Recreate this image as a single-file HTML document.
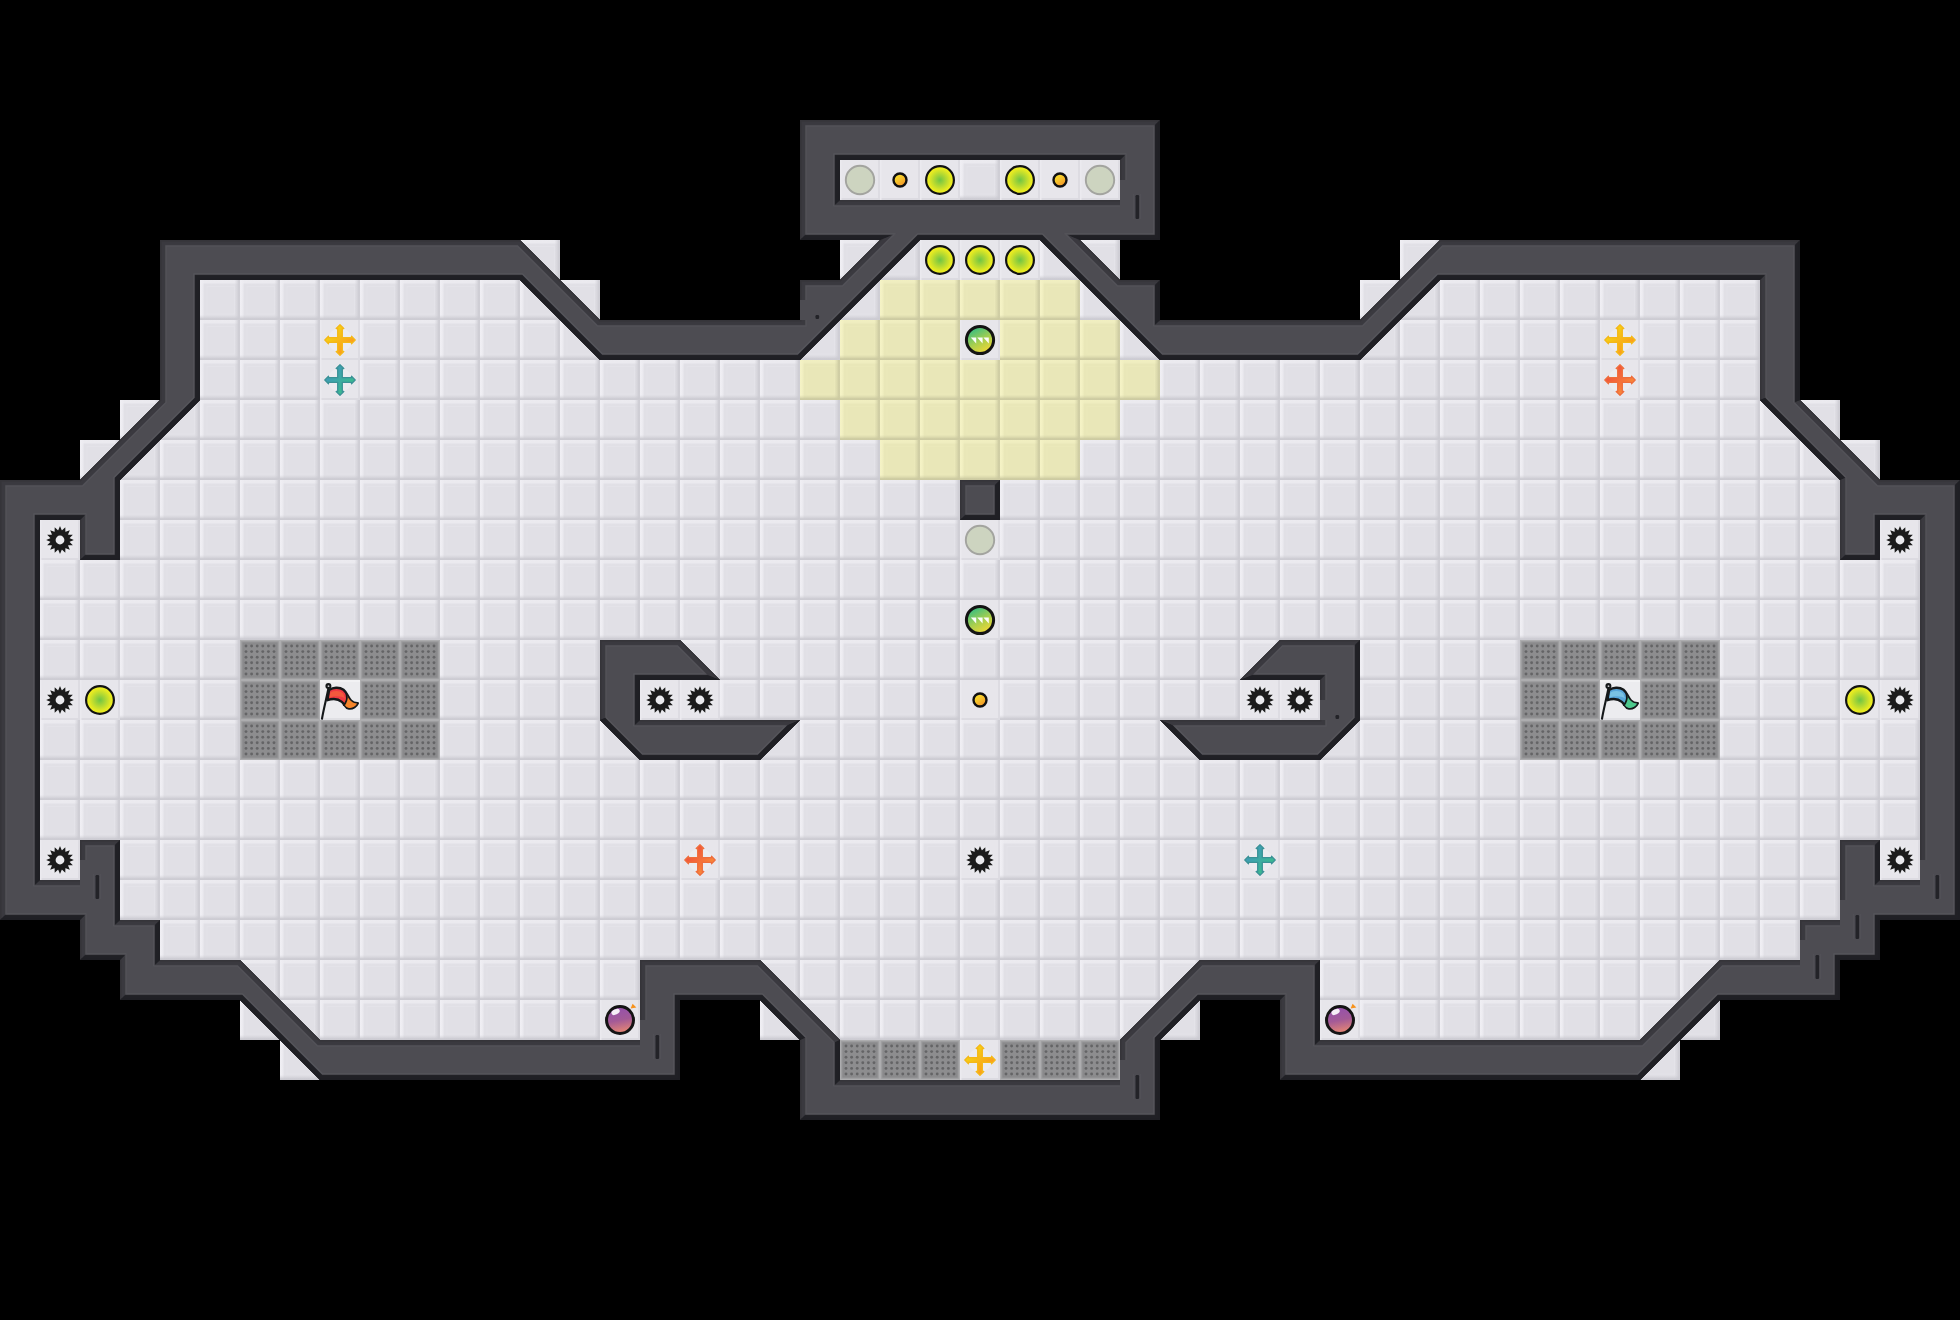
<!DOCTYPE html>
<html><head><meta charset="utf-8"><title>map</title>
<style>
html,body{margin:0;padding:0;background:#000;}
body{width:1960px;height:1320px;overflow:hidden;font-family:"Liberation Sans",sans-serif;}
svg{display:block}
</style></head><body>
<svg width="1960" height="1320" viewBox="0 0 1960 1320">
<defs>
<linearGradient id="gr" x1="0" x2="1" y1="0" y2="0"><stop offset="0" stop-color="#cdccd3" stop-opacity="0"/><stop offset=".45" stop-color="#cdccd3" stop-opacity=".45"/><stop offset=".8" stop-color="#cdccd3"/><stop offset="1" stop-color="#d0cfd6"/></linearGradient>
<linearGradient id="gb" x1="0" x2="0" y1="0" y2="1"><stop offset="0" stop-color="#cbcad1" stop-opacity="0"/><stop offset=".45" stop-color="#cbcad1" stop-opacity=".45"/><stop offset=".8" stop-color="#cbcad1"/><stop offset="1" stop-color="#cfced5"/></linearGradient>
<linearGradient id="gl" x1="0" x2="1" y1="0" y2="0"><stop offset="0" stop-color="#f0eff4"/><stop offset=".45" stop-color="#eeedf2"/><stop offset="1" stop-color="#eeedf2" stop-opacity="0"/></linearGradient>
<linearGradient id="gt" x1="0" x2="0" y1="0" y2="1"><stop offset="0" stop-color="#ecebf0"/><stop offset=".55" stop-color="#ebeaef"/><stop offset="1" stop-color="#ebeaef" stop-opacity="0"/></linearGradient>
<linearGradient id="gry" x1="0" x2="1" y1="0" y2="0"><stop offset="0" stop-color="#cdcba2" stop-opacity="0"/><stop offset=".45" stop-color="#cdcba2" stop-opacity=".45"/><stop offset=".8" stop-color="#cdcba2"/><stop offset="1" stop-color="#d1cfa6"/></linearGradient>
<linearGradient id="gby" x1="0" x2="0" y1="0" y2="1"><stop offset="0" stop-color="#cbc9a0" stop-opacity="0"/><stop offset=".45" stop-color="#cbc9a0" stop-opacity=".45"/><stop offset=".8" stop-color="#cbc9a0"/><stop offset="1" stop-color="#cfcda4"/></linearGradient>
<linearGradient id="gly" x1="0" x2="1" y1="0" y2="0"><stop offset="0" stop-color="#f5f3c6"/><stop offset=".45" stop-color="#f3f1c3"/><stop offset="1" stop-color="#f3f1c3" stop-opacity="0"/></linearGradient>
<linearGradient id="gty" x1="0" x2="0" y1="0" y2="1"><stop offset="0" stop-color="#f1efc1"/><stop offset=".55" stop-color="#efedbf"/><stop offset="1" stop-color="#efedbf" stop-opacity="0"/></linearGradient>
<pattern id="pf" width="40" height="40" patternUnits="userSpaceOnUse">
<rect width="40" height="40" fill="#e1e0e6"/>
<rect x="7" y="6.5" width="27.5" height="27.5" fill="none" stroke="#e4e3e9" stroke-width="1.2"/>
<rect x="0" y="0" width="40" height="4.6" fill="url(#gt)"/>
<rect x="0" y="0" width="4.6" height="40" fill="url(#gl)"/>
<rect x="34.4" y="0" width="5.6" height="40" fill="url(#gr)"/>
<rect x="0" y="35" width="40" height="5" fill="url(#gb)"/>
</pattern>
<pattern id="pw" width="40" height="40" patternUnits="userSpaceOnUse">
<rect width="40" height="40" fill="#ececef"/>
<rect x="0" y="0" width="40" height="2" fill="#f2f2f4"/>
<rect x="0" y="38" width="40" height="2" fill="#e0e0e4"/>
</pattern>
<pattern id="py" width="40" height="40" patternUnits="userSpaceOnUse">
<rect width="40" height="40" fill="#e9e7b8"/>
<rect x="7" y="6.5" width="27.5" height="27.5" fill="none" stroke="#ebe9ba" stroke-width="1.2"/>
<rect x="0" y="0" width="40" height="4.6" fill="url(#gty)"/>
<rect x="0" y="0" width="4.6" height="40" fill="url(#gly)"/>
<rect x="34.4" y="0" width="5.6" height="40" fill="url(#gry)"/>
<rect x="0" y="35" width="40" height="5" fill="url(#gby)"/>
</pattern>
<pattern id="pg" width="40" height="40" patternUnits="userSpaceOnUse">
<rect width="40" height="40" fill="#adadaf"/>
<rect x="1.2" y="1.2" width="37.6" height="37.6" fill="#9a9a9c"/>
<rect x="2.4" y="2.4" width="35.2" height="35.2" fill="#8a8a8c"/>
<rect x="4.5" y="4.5" width="31" height="31" fill="#8d8d8f"/>
<g fill="#646466"><circle cx="6" cy="6" r="1.45"/><circle cx="6" cy="11.6" r="1.45"/><circle cx="6" cy="17.2" r="1.45"/><circle cx="6" cy="22.8" r="1.45"/><circle cx="6" cy="28.4" r="1.45"/><circle cx="6" cy="34" r="1.45"/><circle cx="11.6" cy="6" r="1.45"/><circle cx="11.6" cy="11.6" r="1.45"/><circle cx="11.6" cy="17.2" r="1.45"/><circle cx="11.6" cy="22.8" r="1.45"/><circle cx="11.6" cy="28.4" r="1.45"/><circle cx="11.6" cy="34" r="1.45"/><circle cx="17.2" cy="6" r="1.45"/><circle cx="17.2" cy="11.6" r="1.45"/><circle cx="17.2" cy="17.2" r="1.45"/><circle cx="17.2" cy="22.8" r="1.45"/><circle cx="17.2" cy="28.4" r="1.45"/><circle cx="17.2" cy="34" r="1.45"/><circle cx="22.8" cy="6" r="1.45"/><circle cx="22.8" cy="11.6" r="1.45"/><circle cx="22.8" cy="17.2" r="1.45"/><circle cx="22.8" cy="22.8" r="1.45"/><circle cx="22.8" cy="28.4" r="1.45"/><circle cx="22.8" cy="34" r="1.45"/><circle cx="28.4" cy="6" r="1.45"/><circle cx="28.4" cy="11.6" r="1.45"/><circle cx="28.4" cy="17.2" r="1.45"/><circle cx="28.4" cy="22.8" r="1.45"/><circle cx="28.4" cy="28.4" r="1.45"/><circle cx="28.4" cy="34" r="1.45"/><circle cx="34" cy="6" r="1.45"/><circle cx="34" cy="11.6" r="1.45"/><circle cx="34" cy="17.2" r="1.45"/><circle cx="34" cy="22.8" r="1.45"/><circle cx="34" cy="28.4" r="1.45"/><circle cx="34" cy="34" r="1.45"/></g>
</pattern>
<radialGradient id="gboost"><stop offset="0" stop-color="#6fc544"/><stop offset=".35" stop-color="#a5d436"/><stop offset=".8" stop-color="#e6ea22"/><stop offset="1" stop-color="#f2f21c"/></radialGradient>
<linearGradient id="gbtn" x1="0.2" y1="0.1" x2="0.8" y2="0.9"><stop offset="0" stop-color="#f9e22c"/><stop offset=".5" stop-color="#f7c02c"/><stop offset="1" stop-color="#f3942a"/></linearGradient>
<linearGradient id="gpup" x1="0.25" y1="0.05" x2="0.75" y2="0.95"><stop offset="0" stop-color="#35bd83"/><stop offset=".55" stop-color="#a9cf4e"/><stop offset="1" stop-color="#f1d834"/></linearGradient>
<linearGradient id="gbomb" x1="0.4" y1="0" x2="0.6" y2="1"><stop offset="0" stop-color="#9450ae"/><stop offset=".5" stop-color="#a35a97"/><stop offset="1" stop-color="#ec8a70"/></linearGradient>
<linearGradient id="gcy" x1="0" y1="0" x2="1" y2="1"><stop offset="0.15" stop-color="#f3da12"/><stop offset=".85" stop-color="#fd931e"/></linearGradient>
<linearGradient id="gcb" x1="0" y1="0" x2="1" y2="1"><stop offset="0.15" stop-color="#3f96bd"/><stop offset=".85" stop-color="#3cc088"/></linearGradient>
<linearGradient id="gcr" x1="0" y1="0" x2="1" y2="1"><stop offset="0.15" stop-color="#ef4a3a"/><stop offset=".85" stop-color="#fb923a"/></linearGradient>
<g id="otile"><rect width="40" height="40" fill="#e7e6eb"/><rect x="38" width="2" height="40" fill="#dddce2"/><rect y="38" width="40" height="2" fill="#dcdbe1"/><rect width="1.5" height="40" fill="#ebeaef"/></g>
<g id="boost"><circle r="13.9" fill="url(#gboost)" stroke="#121212" stroke-width="2.2"/></g>
<g id="off"><circle r="14.2" fill="#cdd4c0" stroke="#a3a49f" stroke-width="1.9"/></g>
<g id="btn"><circle r="6.5" fill="url(#gbtn)" stroke="#111" stroke-width="2.4"/></g>
<g id="pup"><circle r="13.6" fill="url(#gpup)" stroke="#141414" stroke-width="3"/>
<path d="M-9.2 -2.4h5.4v5.8zM-2.8 -2.4h5.4v5.8zM3.4 -2.4h5.4v5.8z" fill="#fff" opacity=".97"/></g>
<g id="bomb"><path d="M10.6 -11.4L12.6 -16.2L16.4 -12.4z" fill="#f7931e"/><circle r="13.5" fill="url(#gbomb)" stroke="#141414" stroke-width="3"/>
<ellipse cx="-4.4" cy="-8.4" rx="4.4" ry="2.6" fill="#fff" opacity=".9" transform="rotate(-25 -3.6 -8.2)"/></g>
<g id="spike"><circle r="14.5" fill="#ebebef" opacity=".7"/><path d="M9.74 -1.78L13.90 0.00L9.74 1.78L9.68 2.08L12.84 5.32L8.32 5.37L8.14 5.63L9.83 9.83L5.63 8.14L5.37 8.32L5.32 12.84L2.08 9.68L1.78 9.74L0.00 13.90L-1.78 9.74L-2.08 9.68L-5.32 12.84L-5.37 8.32L-5.63 8.14L-9.83 9.83L-8.14 5.63L-8.32 5.37L-12.84 5.32L-9.68 2.08L-9.74 1.78L-13.90 0.00L-9.74 -1.78L-9.68 -2.08L-12.84 -5.32L-8.32 -5.37L-8.14 -5.63L-9.83 -9.83L-5.63 -8.14L-5.37 -8.32L-5.32 -12.84L-2.08 -9.68L-1.78 -9.74L-0.00 -13.90L1.78 -9.74L2.08 -9.68L5.32 -12.84L5.37 -8.32L5.63 -8.14L9.83 -9.83L8.14 -5.63L8.32 -5.37L12.84 -5.32L9.68 -2.08zM4.4 0A4.4 4.4 0 1 0 -4.4 0A4.4 4.4 0 1 0 4.4 0z" fill="#1b1b1b" fill-rule="evenodd"/></g>
<g id="cy"><circle r="12" fill="#f1f0f4" opacity=".55"/><path d="M2.30 -2.30L11.50 -2.30L11.50 -3.80L15.20 0.00L11.50 3.80L11.50 2.30L2.30 2.30L2.30 2.30L2.30 11.50L3.80 11.50L0.00 15.20L-3.80 11.50L-2.30 11.50L-2.30 2.30L-2.30 2.30L-11.50 2.30L-11.50 3.80L-15.20 0.00L-11.50 -3.80L-11.50 -2.30L-2.30 -2.30L-2.30 -2.30L-2.30 -11.50L-3.80 -11.50L-0.00 -15.20L3.80 -11.50L2.30 -11.50L2.30 -2.30z" fill="url(#gcy)" stroke="#f4b818" stroke-width="1.3" stroke-linejoin="round"/></g>
<g id="cb"><circle r="12" fill="#f1f0f4" opacity=".55"/><path d="M2.30 -2.30L11.50 -2.30L11.50 -3.80L15.20 0.00L11.50 3.80L11.50 2.30L2.30 2.30L2.30 2.30L2.30 11.50L3.80 11.50L0.00 15.20L-3.80 11.50L-2.30 11.50L-2.30 2.30L-2.30 2.30L-11.50 2.30L-11.50 3.80L-15.20 0.00L-11.50 -3.80L-11.50 -2.30L-2.30 -2.30L-2.30 -2.30L-2.30 -11.50L-3.80 -11.50L-0.00 -15.20L3.80 -11.50L2.30 -11.50L2.30 -2.30z" fill="url(#gcb)" stroke="#3b9296" stroke-width="1.3" stroke-linejoin="round"/></g>
<g id="cr"><circle r="12" fill="#f1f0f4" opacity=".55"/><path d="M2.30 -2.30L11.50 -2.30L11.50 -3.80L15.20 0.00L11.50 3.80L11.50 2.30L2.30 2.30L2.30 2.30L2.30 11.50L3.80 11.50L0.00 15.20L-3.80 11.50L-2.30 11.50L-2.30 2.30L-2.30 2.30L-11.50 2.30L-11.50 3.80L-15.20 0.00L-11.50 -3.80L-11.50 -2.30L-2.30 -2.30L-2.30 -2.30L-2.30 -11.50L-3.80 -11.50L-0.00 -15.20L3.80 -11.50L2.30 -11.50L2.30 -2.30z" fill="url(#gcr)" stroke="#ee6e3c" stroke-width="1.3" stroke-linejoin="round"/></g>
<g id="rflag"><path d="M-18 18.7C-16.5 10 -13.5 -2 -11.5 -12" stroke="#15181a" stroke-width="2.1" stroke-linecap="round" fill="none"/><circle cx="-11.6" cy="-13.9" r="3" fill="#15181a"/><circle cx="-11.5" cy="-13.8" r="0.9" fill="#c8c8cc"/>
<path d="M-10.9 -10C-7 -12.6 -1 -13.4 3.5 -10.3C7 -7.6 8 -2.5 11 0.6C13 2.7 15.5 3.4 17.8 3.3C16.5 6.3 13 9 9 8.6C5 8 4.6 4.2 1.8 1.8C-1.8 -1.2 -7.5 -1.6 -12.6 0.2z" fill="#ee3942" stroke="#15181a" stroke-width="2.4" stroke-linejoin="round"/>
<path d="M-9.6 -7.6C-5 -9.6 0 -9.6 3.2 -6.4L5 -1.6C1.6 -4 -4.5 -4.4 -10.6 -2.6z" fill="#f4633c" opacity=".75"/>
<path d="M6.9 -5C8.2 -2 9.5 0 11 1.1C13 2.9 15.3 3.6 17 3.6C15.8 6.1 12.8 8.3 9.2 7.9C6.8 7.6 5.4 6 4.3 4.2z" fill="#f5852a"/>
<path d="M6.6 -5.4C7.4 -1.5 6 3 3.8 5" stroke="#15181a" stroke-width="1.9" fill="none" stroke-linecap="round"/></g>
<g id="bflag"><path d="M-18 18.7C-16.5 10 -13.5 -2 -11.5 -12" stroke="#15181a" stroke-width="2.1" stroke-linecap="round" fill="none"/><circle cx="-11.6" cy="-13.9" r="3" fill="#15181a"/><circle cx="-11.5" cy="-13.8" r="0.9" fill="#c8c8cc"/>
<path d="M-10.9 -10C-7 -12.6 -1 -13.4 3.5 -10.3C7 -7.6 8 -2.5 11 0.6C13 2.7 15.5 3.4 17.8 3.3C16.5 6.3 13 9 9 8.6C5 8 4.6 4.2 1.8 1.8C-1.8 -1.2 -7.5 -1.6 -12.6 0.2z" fill="#58a6da" stroke="#15181a" stroke-width="2.4" stroke-linejoin="round"/>
<path d="M-9.6 -7.6C-5 -9.6 0 -9.6 3.2 -6.4L5 -1.6C1.6 -4 -4.5 -4.4 -10.6 -2.6z" fill="#86cbe6" opacity=".75"/>
<path d="M6.9 -5C8.2 -2 9.5 0 11 1.1C13 2.9 15.3 3.6 17 3.6C15.8 6.1 12.8 8.3 9.2 7.9C6.8 7.6 5.4 6 4.3 4.2z" fill="#4cc88c"/>
<path d="M6.6 -5.4C7.4 -1.5 6 3 3.8 5" stroke="#15181a" stroke-width="1.9" fill="none" stroke-linecap="round"/></g>
</defs>
<rect width="1960" height="1320" fill="#000"/>
<path d="M840 160h280v40h-280zM520 240h40v40h-40zM840 240h280v40h-280zM1400 240h40v40h-40zM200 280h400v40h-400zM840 280h40v40h-40zM1080 280h40v40h-40zM1360 280h400v40h-400zM200 320h400v40h-400zM800 320h40v40h-40zM960 320h40v40h-40zM1120 320h40v40h-40zM1360 320h400v40h-400zM200 360h600v40h-600zM1160 360h600v40h-600zM120 400h720v40h-720zM1120 400h720v40h-720zM80 440h800v40h-800zM1080 440h800v40h-800zM120 480h840v40h-840zM1000 480h840v40h-840zM40 520h40v40h-40zM120 520h1720v40h-1720zM1880 520h40v40h-40zM40 560h1880v40h-1880zM40 600h1880v40h-1880zM40 640h200v40h-200zM440 640h160v40h-160zM680 640h600v40h-600zM1360 640h160v40h-160zM1720 640h200v40h-200zM40 680h200v40h-200zM440 680h160v40h-160zM640 680h680v40h-680zM1360 680h160v40h-160zM1720 680h200v40h-200zM40 720h200v40h-200zM440 720h200v40h-200zM760 720h440v40h-440zM1320 720h200v40h-200zM1720 720h200v40h-200zM40 760h1880v40h-1880zM40 800h1880v40h-1880zM40 840h40v40h-40zM120 840h1720v40h-1720zM1880 840h40v40h-40zM120 880h1720v40h-1720zM160 920h1640v40h-1640zM240 960h400v40h-400zM760 960h440v40h-440zM1320 960h400v40h-400zM240 1000h400v40h-400zM760 1000h440v40h-440zM1320 1000h400v40h-400zM280 1040h40v40h-40zM960 1040h40v40h-40zM1640 1040h40v40h-40z" fill="url(#pf)"/>
<path d="M880 280h200v40h-200zM840 320h120v40h-120zM1000 320h120v40h-120zM800 360h360v40h-360zM840 400h280v40h-280zM880 440h200v40h-200z" fill="url(#py)"/>
<path d="M240 640h200v40h-200zM1520 640h200v40h-200zM240 680h80v40h-80zM360 680h80v40h-80zM1520 680h80v40h-80zM1640 680h80v40h-80zM240 720h200v40h-200zM1520 720h200v40h-200zM840 1040h120v40h-120zM1000 1040h120v40h-120z" fill="url(#pg)"/>
<path d="M320 680h40v40h-40zM1600 680h40v40h-40z" fill="url(#pw)"/>
<path d="M600 320L520 240L160 240L160 400L80 480L0 480L0 920L80 920L80 960L120 960L120 1000L240 1000L320 1080L680 1080L680 1000L760 1000L800 1040L800 1120L1160 1120L1160 1040L1200 1000L1280 1000L1280 1080L1640 1080L1720 1000L1840 1000L1840 960L1880 960L1880 920L1960 920L1960 480L1880 480L1800 400L1800 240L1440 240L1360 320L1160 320L1160 280L1120 280L1080 240L1160 240L1160 120L800 120L800 240L880 240L840 280L800 280L800 320zM520 280L600 360L800 360L920 240L1040 240L1160 360L1360 360L1440 280L1760 280L1760 400L1840 480L1840 560L1880 560L1880 520L1920 520L1920 880L1880 880L1880 840L1840 840L1840 920L1800 920L1800 960L1720 960L1640 1040L1320 1040L1320 960L1200 960L1120 1040L1120 1080L840 1080L840 1040L760 960L640 960L640 1040L320 1040L240 960L160 960L160 920L120 920L120 840L80 840L80 880L40 880L40 520L80 520L80 560L120 560L120 480L200 400L200 280zM1120 160L1120 200L840 200L840 160zM760 760L800 720L640 720L640 680L720 680L680 640L600 640L600 720L640 760zM960 480L960 520L1000 520L1000 480zM1160 720L1200 760L1320 760L1360 720L1360 640L1280 640L1240 680L1320 680L1320 720z" fill="#4d4c52" fill-rule="evenodd"/>
<path d="M600.00 320.00L520.00 240.00L517.18 246.80L597.18 326.80zM520.00 240.00L160.00 240.00L166.80 246.80L517.18 246.80zM160.00 240.00L160.00 400.00L166.80 402.82L166.80 246.80zM160.00 400.00L80.00 480.00L82.82 486.80L166.80 402.82zM80.00 480.00L0.00 480.00L6.80 486.80L82.82 486.80zM0.00 480.00L0.00 920.00L6.80 913.20L6.80 486.80zM80.00 920.00L80.00 960.00L86.80 953.20L86.80 913.20zM120.00 960.00L120.00 1000.00L126.80 993.20L126.80 953.20zM800.00 1040.00L800.00 1120.00L806.80 1113.20L806.80 1037.18zM1280.00 1000.00L1280.00 1080.00L1286.80 1073.20L1286.80 993.20zM1960.00 480.00L1880.00 480.00L1877.18 486.80L1953.20 486.80zM1880.00 480.00L1800.00 400.00L1793.20 402.82L1877.18 486.80zM1800.00 240.00L1440.00 240.00L1442.82 246.80L1793.20 246.80zM1440.00 240.00L1360.00 320.00L1362.82 326.80L1442.82 246.80zM1360.00 320.00L1160.00 320.00L1153.20 326.80L1362.82 326.80zM1160.00 280.00L1120.00 280.00L1117.18 286.80L1153.20 286.80zM1120.00 280.00L1080.00 240.00L1063.58 233.20L1117.18 286.80zM1160.00 120.00L800.00 120.00L806.80 126.80L1153.20 126.80zM800.00 120.00L800.00 240.00L806.80 233.20L806.80 126.80zM880.00 240.00L840.00 280.00L842.82 286.80L896.42 233.20zM840.00 280.00L800.00 280.00L806.80 286.80L842.82 286.80zM800.00 280.00L800.00 320.00L806.80 326.80L806.80 286.80zM800.00 320.00L600.00 320.00L597.18 326.80L806.80 326.80zM1760.00 280.00L1760.00 400.00L1766.80 397.18L1766.80 273.20zM1840.00 480.00L1840.00 560.00L1846.80 553.20L1846.80 477.18zM1920.00 520.00L1920.00 880.00L1926.80 886.80L1926.80 513.20zM1920.00 880.00L1880.00 880.00L1873.20 886.80L1926.80 886.80zM1880.00 840.00L1840.00 840.00L1846.80 846.80L1873.20 846.80zM1840.00 840.00L1840.00 920.00L1846.80 926.80L1846.80 846.80zM1840.00 920.00L1800.00 920.00L1806.80 926.80L1846.80 926.80zM1800.00 920.00L1800.00 960.00L1806.80 966.80L1806.80 926.80zM1800.00 960.00L1720.00 960.00L1722.82 966.80L1806.80 966.80zM1720.00 960.00L1640.00 1040.00L1642.82 1046.80L1722.82 966.80zM1640.00 1040.00L1320.00 1040.00L1313.20 1046.80L1642.82 1046.80zM1320.00 960.00L1200.00 960.00L1202.82 966.80L1313.20 966.80zM1200.00 960.00L1120.00 1040.00L1126.80 1042.82L1202.82 966.80zM1120.00 1040.00L1120.00 1080.00L1126.80 1086.80L1126.80 1042.82zM1120.00 1080.00L840.00 1080.00L833.20 1086.80L1126.80 1086.80zM840.00 1040.00L760.00 960.00L757.18 966.80L833.20 1042.82zM760.00 960.00L640.00 960.00L646.80 966.80L757.18 966.80zM640.00 960.00L640.00 1040.00L646.80 1046.80L646.80 966.80zM640.00 1040.00L320.00 1040.00L317.18 1046.80L646.80 1046.80zM320.00 1040.00L240.00 960.00L237.18 966.80L317.18 1046.80zM240.00 960.00L160.00 960.00L153.20 966.80L237.18 966.80zM160.00 920.00L120.00 920.00L113.20 926.80L153.20 926.80zM120.00 840.00L80.00 840.00L86.80 846.80L113.20 846.80zM80.00 840.00L80.00 880.00L86.80 886.80L86.80 846.80zM80.00 880.00L40.00 880.00L33.20 886.80L86.80 886.80zM80.00 520.00L80.00 560.00L86.80 553.20L86.80 513.20zM1120.00 160.00L1120.00 200.00L1126.80 206.80L1126.80 153.20zM1120.00 200.00L840.00 200.00L833.20 206.80L1126.80 206.80zM800.00 720.00L640.00 720.00L633.20 726.80L783.58 726.80zM720.00 680.00L680.00 640.00L677.18 646.80L703.58 673.20zM680.00 640.00L600.00 640.00L606.80 646.80L677.18 646.80zM600.00 640.00L600.00 720.00L606.80 717.18L606.80 646.80zM960.00 480.00L960.00 520.00L966.80 513.20L966.80 486.80zM1000.00 480.00L960.00 480.00L966.80 486.80L993.20 486.80zM1360.00 640.00L1280.00 640.00L1282.82 646.80L1353.20 646.80zM1280.00 640.00L1240.00 680.00L1256.42 673.20L1282.82 646.80zM1320.00 680.00L1320.00 720.00L1326.80 726.80L1326.80 673.20zM1320.00 720.00L1160.00 720.00L1176.42 726.80L1326.80 726.80z" fill="#535258"/>
<path d="M0.00 920.00L80.00 920.00L86.80 913.20L6.80 913.20zM80.00 960.00L120.00 960.00L126.80 953.20L86.80 953.20zM120.00 1000.00L240.00 1000.00L242.82 993.20L126.80 993.20zM240.00 1000.00L320.00 1080.00L322.82 1073.20L242.82 993.20zM320.00 1080.00L680.00 1080.00L673.20 1073.20L322.82 1073.20zM680.00 1080.00L680.00 1000.00L673.20 993.20L673.20 1073.20zM680.00 1000.00L760.00 1000.00L762.82 993.20L673.20 993.20zM760.00 1000.00L800.00 1040.00L806.80 1037.18L762.82 993.20zM800.00 1120.00L1160.00 1120.00L1153.20 1113.20L806.80 1113.20zM1160.00 1120.00L1160.00 1040.00L1153.20 1037.18L1153.20 1113.20zM1160.00 1040.00L1200.00 1000.00L1197.18 993.20L1153.20 1037.18zM1200.00 1000.00L1280.00 1000.00L1286.80 993.20L1197.18 993.20zM1280.00 1080.00L1640.00 1080.00L1637.18 1073.20L1286.80 1073.20zM1640.00 1080.00L1720.00 1000.00L1717.18 993.20L1637.18 1073.20zM1720.00 1000.00L1840.00 1000.00L1833.20 993.20L1717.18 993.20zM1840.00 1000.00L1840.00 960.00L1833.20 953.20L1833.20 993.20zM1840.00 960.00L1880.00 960.00L1873.20 953.20L1833.20 953.20zM1880.00 960.00L1880.00 920.00L1873.20 913.20L1873.20 953.20zM1880.00 920.00L1960.00 920.00L1953.20 913.20L1873.20 913.20zM1960.00 920.00L1960.00 480.00L1953.20 486.80L1953.20 913.20zM1800.00 400.00L1800.00 240.00L1793.20 246.80L1793.20 402.82zM1160.00 320.00L1160.00 280.00L1153.20 286.80L1153.20 326.80zM1080.00 240.00L1160.00 240.00L1153.20 233.20L1063.58 233.20zM1160.00 240.00L1160.00 120.00L1153.20 126.80L1153.20 233.20zM800.00 240.00L880.00 240.00L896.42 233.20L806.80 233.20zM520.00 280.00L600.00 360.00L602.82 353.20L522.82 273.20zM600.00 360.00L800.00 360.00L797.18 353.20L602.82 353.20zM800.00 360.00L920.00 240.00L917.18 233.20L797.18 353.20zM920.00 240.00L1040.00 240.00L1042.82 233.20L917.18 233.20zM1040.00 240.00L1160.00 360.00L1162.82 353.20L1042.82 233.20zM1160.00 360.00L1360.00 360.00L1357.18 353.20L1162.82 353.20zM1360.00 360.00L1440.00 280.00L1437.18 273.20L1357.18 353.20zM1440.00 280.00L1760.00 280.00L1766.80 273.20L1437.18 273.20zM1760.00 400.00L1840.00 480.00L1846.80 477.18L1766.80 397.18zM1840.00 560.00L1880.00 560.00L1873.20 553.20L1846.80 553.20zM1880.00 560.00L1880.00 520.00L1873.20 513.20L1873.20 553.20zM1880.00 520.00L1920.00 520.00L1926.80 513.20L1873.20 513.20zM1880.00 880.00L1880.00 840.00L1873.20 846.80L1873.20 886.80zM1320.00 1040.00L1320.00 960.00L1313.20 966.80L1313.20 1046.80zM840.00 1080.00L840.00 1040.00L833.20 1042.82L833.20 1086.80zM160.00 960.00L160.00 920.00L153.20 926.80L153.20 966.80zM120.00 920.00L120.00 840.00L113.20 846.80L113.20 926.80zM40.00 880.00L40.00 520.00L33.20 513.20L33.20 886.80zM40.00 520.00L80.00 520.00L86.80 513.20L33.20 513.20zM80.00 560.00L120.00 560.00L113.20 553.20L86.80 553.20zM120.00 560.00L120.00 480.00L113.20 477.18L113.20 553.20zM120.00 480.00L200.00 400.00L193.20 397.18L113.20 477.18zM200.00 400.00L200.00 280.00L193.20 273.20L193.20 397.18zM200.00 280.00L520.00 280.00L522.82 273.20L193.20 273.20zM840.00 200.00L840.00 160.00L833.20 153.20L833.20 206.80zM840.00 160.00L1120.00 160.00L1126.80 153.20L833.20 153.20zM760.00 760.00L800.00 720.00L783.58 726.80L757.18 753.20zM640.00 720.00L640.00 680.00L633.20 673.20L633.20 726.80zM640.00 680.00L720.00 680.00L703.58 673.20L633.20 673.20zM600.00 720.00L640.00 760.00L642.82 753.20L606.80 717.18zM640.00 760.00L760.00 760.00L757.18 753.20L642.82 753.20zM960.00 520.00L1000.00 520.00L993.20 513.20L966.80 513.20zM1000.00 520.00L1000.00 480.00L993.20 486.80L993.20 513.20zM1160.00 720.00L1200.00 760.00L1202.82 753.20L1176.42 726.80zM1200.00 760.00L1320.00 760.00L1317.18 753.20L1202.82 753.20zM1320.00 760.00L1360.00 720.00L1353.20 717.18L1317.18 753.20zM1360.00 720.00L1360.00 640.00L1353.20 646.80L1353.20 717.18zM1240.00 680.00L1320.00 680.00L1326.80 673.20L1256.42 673.20z" fill="#56555b"/>
<path d="M600.00 320.00L520.00 240.00L517.80 245.30L597.80 325.30zM520.00 240.00L160.00 240.00L165.30 245.30L517.80 245.30zM160.00 240.00L160.00 400.00L165.30 402.20L165.30 245.30zM160.00 400.00L80.00 480.00L82.20 485.30L165.30 402.20zM80.00 480.00L0.00 480.00L5.30 485.30L82.20 485.30zM0.00 480.00L0.00 920.00L5.30 914.70L5.30 485.30zM80.00 920.00L80.00 960.00L85.30 954.70L85.30 914.70zM120.00 960.00L120.00 1000.00L125.30 994.70L125.30 954.70zM800.00 1040.00L800.00 1120.00L805.30 1114.70L805.30 1037.80zM1280.00 1000.00L1280.00 1080.00L1285.30 1074.70L1285.30 994.70zM1960.00 480.00L1880.00 480.00L1877.80 485.30L1954.70 485.30zM1880.00 480.00L1800.00 400.00L1794.70 402.20L1877.80 485.30zM1800.00 240.00L1440.00 240.00L1442.20 245.30L1794.70 245.30zM1440.00 240.00L1360.00 320.00L1362.20 325.30L1442.20 245.30zM1360.00 320.00L1160.00 320.00L1154.70 325.30L1362.20 325.30zM1160.00 280.00L1120.00 280.00L1117.80 285.30L1154.70 285.30zM1120.00 280.00L1080.00 240.00L1067.20 234.70L1117.80 285.30zM1160.00 120.00L800.00 120.00L805.30 125.30L1154.70 125.30zM800.00 120.00L800.00 240.00L805.30 234.70L805.30 125.30zM880.00 240.00L840.00 280.00L842.20 285.30L892.80 234.70zM840.00 280.00L800.00 280.00L805.30 285.30L842.20 285.30zM800.00 280.00L800.00 320.00L805.30 325.30L805.30 285.30zM800.00 320.00L600.00 320.00L597.80 325.30L805.30 325.30zM1760.00 280.00L1760.00 400.00L1765.30 397.80L1765.30 274.70zM1840.00 480.00L1840.00 560.00L1845.30 554.70L1845.30 477.80zM1920.00 520.00L1920.00 880.00L1925.30 885.30L1925.30 514.70zM1920.00 880.00L1880.00 880.00L1874.70 885.30L1925.30 885.30zM1880.00 840.00L1840.00 840.00L1845.30 845.30L1874.70 845.30zM1840.00 840.00L1840.00 920.00L1845.30 925.30L1845.30 845.30zM1840.00 920.00L1800.00 920.00L1805.30 925.30L1845.30 925.30zM1800.00 920.00L1800.00 960.00L1805.30 965.30L1805.30 925.30zM1800.00 960.00L1720.00 960.00L1722.20 965.30L1805.30 965.30zM1720.00 960.00L1640.00 1040.00L1642.20 1045.30L1722.20 965.30zM1640.00 1040.00L1320.00 1040.00L1314.70 1045.30L1642.20 1045.30zM1320.00 960.00L1200.00 960.00L1202.20 965.30L1314.70 965.30zM1200.00 960.00L1120.00 1040.00L1125.30 1042.20L1202.20 965.30zM1120.00 1040.00L1120.00 1080.00L1125.30 1085.30L1125.30 1042.20zM1120.00 1080.00L840.00 1080.00L834.70 1085.30L1125.30 1085.30zM840.00 1040.00L760.00 960.00L757.80 965.30L834.70 1042.20zM760.00 960.00L640.00 960.00L645.30 965.30L757.80 965.30zM640.00 960.00L640.00 1040.00L645.30 1045.30L645.30 965.30zM640.00 1040.00L320.00 1040.00L317.80 1045.30L645.30 1045.30zM320.00 1040.00L240.00 960.00L237.80 965.30L317.80 1045.30zM240.00 960.00L160.00 960.00L154.70 965.30L237.80 965.30zM160.00 920.00L120.00 920.00L114.70 925.30L154.70 925.30zM120.00 840.00L80.00 840.00L85.30 845.30L114.70 845.30zM80.00 840.00L80.00 880.00L85.30 885.30L85.30 845.30zM80.00 880.00L40.00 880.00L34.70 885.30L85.30 885.30zM80.00 520.00L80.00 560.00L85.30 554.70L85.30 514.70zM1120.00 160.00L1120.00 200.00L1125.30 205.30L1125.30 154.70zM1120.00 200.00L840.00 200.00L834.70 205.30L1125.30 205.30zM800.00 720.00L640.00 720.00L634.70 725.30L787.20 725.30zM720.00 680.00L680.00 640.00L677.80 645.30L707.20 674.70zM680.00 640.00L600.00 640.00L605.30 645.30L677.80 645.30zM600.00 640.00L600.00 720.00L605.30 717.80L605.30 645.30zM960.00 480.00L960.00 520.00L965.30 514.70L965.30 485.30zM1000.00 480.00L960.00 480.00L965.30 485.30L994.70 485.30zM1360.00 640.00L1280.00 640.00L1282.20 645.30L1354.70 645.30zM1280.00 640.00L1240.00 680.00L1252.80 674.70L1282.20 645.30zM1320.00 680.00L1320.00 720.00L1325.30 725.30L1325.30 674.70zM1320.00 720.00L1160.00 720.00L1172.80 725.30L1325.30 725.30z" fill="#3d3c42"/>
<path d="M0.00 920.00L80.00 920.00L85.30 914.70L5.30 914.70zM80.00 960.00L120.00 960.00L125.30 954.70L85.30 954.70zM120.00 1000.00L240.00 1000.00L242.20 994.70L125.30 994.70zM240.00 1000.00L320.00 1080.00L322.20 1074.70L242.20 994.70zM320.00 1080.00L680.00 1080.00L674.70 1074.70L322.20 1074.70zM680.00 1080.00L680.00 1000.00L674.70 994.70L674.70 1074.70zM680.00 1000.00L760.00 1000.00L762.20 994.70L674.70 994.70zM760.00 1000.00L800.00 1040.00L805.30 1037.80L762.20 994.70zM800.00 1120.00L1160.00 1120.00L1154.70 1114.70L805.30 1114.70zM1160.00 1120.00L1160.00 1040.00L1154.70 1037.80L1154.70 1114.70zM1160.00 1040.00L1200.00 1000.00L1197.80 994.70L1154.70 1037.80zM1200.00 1000.00L1280.00 1000.00L1285.30 994.70L1197.80 994.70zM1280.00 1080.00L1640.00 1080.00L1637.80 1074.70L1285.30 1074.70zM1640.00 1080.00L1720.00 1000.00L1717.80 994.70L1637.80 1074.70zM1720.00 1000.00L1840.00 1000.00L1834.70 994.70L1717.80 994.70zM1840.00 1000.00L1840.00 960.00L1834.70 954.70L1834.70 994.70zM1840.00 960.00L1880.00 960.00L1874.70 954.70L1834.70 954.70zM1880.00 960.00L1880.00 920.00L1874.70 914.70L1874.70 954.70zM1880.00 920.00L1960.00 920.00L1954.70 914.70L1874.70 914.70zM1960.00 920.00L1960.00 480.00L1954.70 485.30L1954.70 914.70zM1800.00 400.00L1800.00 240.00L1794.70 245.30L1794.70 402.20zM1160.00 320.00L1160.00 280.00L1154.70 285.30L1154.70 325.30zM1080.00 240.00L1160.00 240.00L1154.70 234.70L1067.20 234.70zM1160.00 240.00L1160.00 120.00L1154.70 125.30L1154.70 234.70zM800.00 240.00L880.00 240.00L892.80 234.70L805.30 234.70zM520.00 280.00L600.00 360.00L602.20 354.70L522.20 274.70zM600.00 360.00L800.00 360.00L797.80 354.70L602.20 354.70zM800.00 360.00L920.00 240.00L917.80 234.70L797.80 354.70zM920.00 240.00L1040.00 240.00L1042.20 234.70L917.80 234.70zM1040.00 240.00L1160.00 360.00L1162.20 354.70L1042.20 234.70zM1160.00 360.00L1360.00 360.00L1357.80 354.70L1162.20 354.70zM1360.00 360.00L1440.00 280.00L1437.80 274.70L1357.80 354.70zM1440.00 280.00L1760.00 280.00L1765.30 274.70L1437.80 274.70zM1760.00 400.00L1840.00 480.00L1845.30 477.80L1765.30 397.80zM1840.00 560.00L1880.00 560.00L1874.70 554.70L1845.30 554.70zM1880.00 560.00L1880.00 520.00L1874.70 514.70L1874.70 554.70zM1880.00 520.00L1920.00 520.00L1925.30 514.70L1874.70 514.70zM1880.00 880.00L1880.00 840.00L1874.70 845.30L1874.70 885.30zM1320.00 1040.00L1320.00 960.00L1314.70 965.30L1314.70 1045.30zM840.00 1080.00L840.00 1040.00L834.70 1042.20L834.70 1085.30zM160.00 960.00L160.00 920.00L154.70 925.30L154.70 965.30zM120.00 920.00L120.00 840.00L114.70 845.30L114.70 925.30zM40.00 880.00L40.00 520.00L34.70 514.70L34.70 885.30zM40.00 520.00L80.00 520.00L85.30 514.70L34.70 514.70zM80.00 560.00L120.00 560.00L114.70 554.70L85.30 554.70zM120.00 560.00L120.00 480.00L114.70 477.80L114.70 554.70zM120.00 480.00L200.00 400.00L194.70 397.80L114.70 477.80zM200.00 400.00L200.00 280.00L194.70 274.70L194.70 397.80zM200.00 280.00L520.00 280.00L522.20 274.70L194.70 274.70zM840.00 200.00L840.00 160.00L834.70 154.70L834.70 205.30zM840.00 160.00L1120.00 160.00L1125.30 154.70L834.70 154.70zM760.00 760.00L800.00 720.00L787.20 725.30L757.80 754.70zM640.00 720.00L640.00 680.00L634.70 674.70L634.70 725.30zM640.00 680.00L720.00 680.00L707.20 674.70L634.70 674.70zM600.00 720.00L640.00 760.00L642.20 754.70L605.30 717.80zM640.00 760.00L760.00 760.00L757.80 754.70L642.20 754.70zM960.00 520.00L1000.00 520.00L994.70 514.70L965.30 514.70zM1000.00 520.00L1000.00 480.00L994.70 485.30L994.70 514.70zM1160.00 720.00L1200.00 760.00L1202.20 754.70L1172.80 725.30zM1200.00 760.00L1320.00 760.00L1317.80 754.70L1202.20 754.70zM1320.00 760.00L1360.00 720.00L1354.70 717.80L1317.80 754.70zM1360.00 720.00L1360.00 640.00L1354.70 645.30L1354.70 717.80zM1240.00 680.00L1320.00 680.00L1325.30 674.70L1252.80 674.70z" fill="#242429"/>
<path d="M600.00 320.00L520.00 240.00L518.09 244.60L598.09 324.60zM520.00 240.00L160.00 240.00L164.60 244.60L518.09 244.60zM160.00 240.00L160.00 400.00L164.60 401.91L164.60 244.60zM160.00 400.00L80.00 480.00L81.91 484.60L164.60 401.91zM80.00 480.00L0.00 480.00L4.60 484.60L81.91 484.60zM0.00 480.00L0.00 920.00L4.60 915.40L4.60 484.60zM80.00 920.00L80.00 960.00L84.60 955.40L84.60 915.40zM120.00 960.00L120.00 1000.00L124.60 995.40L124.60 955.40zM800.00 1040.00L800.00 1120.00L804.60 1115.40L804.60 1038.09zM1280.00 1000.00L1280.00 1080.00L1284.60 1075.40L1284.60 995.40zM1960.00 480.00L1880.00 480.00L1878.09 484.60L1955.40 484.60zM1880.00 480.00L1800.00 400.00L1795.40 401.91L1878.09 484.60zM1800.00 240.00L1440.00 240.00L1441.91 244.60L1795.40 244.60zM1440.00 240.00L1360.00 320.00L1361.91 324.60L1441.91 244.60zM1360.00 320.00L1160.00 320.00L1155.40 324.60L1361.91 324.60zM1160.00 280.00L1120.00 280.00L1118.09 284.60L1155.40 284.60zM1120.00 280.00L1080.00 240.00L1068.89 235.40L1118.09 284.60zM1160.00 120.00L800.00 120.00L804.60 124.60L1155.40 124.60zM800.00 120.00L800.00 240.00L804.60 235.40L804.60 124.60zM880.00 240.00L840.00 280.00L841.91 284.60L891.11 235.40zM840.00 280.00L800.00 280.00L804.60 284.60L841.91 284.60zM800.00 280.00L800.00 320.00L804.60 324.60L804.60 284.60zM800.00 320.00L600.00 320.00L598.09 324.60L804.60 324.60zM1760.00 280.00L1760.00 400.00L1764.60 398.09L1764.60 275.40zM1840.00 480.00L1840.00 560.00L1844.60 555.40L1844.60 478.09zM1920.00 520.00L1920.00 880.00L1924.60 884.60L1924.60 515.40zM1920.00 880.00L1880.00 880.00L1875.40 884.60L1924.60 884.60zM1880.00 840.00L1840.00 840.00L1844.60 844.60L1875.40 844.60zM1840.00 840.00L1840.00 920.00L1844.60 924.60L1844.60 844.60zM1840.00 920.00L1800.00 920.00L1804.60 924.60L1844.60 924.60zM1800.00 920.00L1800.00 960.00L1804.60 964.60L1804.60 924.60zM1800.00 960.00L1720.00 960.00L1721.91 964.60L1804.60 964.60zM1720.00 960.00L1640.00 1040.00L1641.91 1044.60L1721.91 964.60zM1640.00 1040.00L1320.00 1040.00L1315.40 1044.60L1641.91 1044.60zM1320.00 960.00L1200.00 960.00L1201.91 964.60L1315.40 964.60zM1200.00 960.00L1120.00 1040.00L1124.60 1041.91L1201.91 964.60zM1120.00 1040.00L1120.00 1080.00L1124.60 1084.60L1124.60 1041.91zM1120.00 1080.00L840.00 1080.00L835.40 1084.60L1124.60 1084.60zM840.00 1040.00L760.00 960.00L758.09 964.60L835.40 1041.91zM760.00 960.00L640.00 960.00L644.60 964.60L758.09 964.60zM640.00 960.00L640.00 1040.00L644.60 1044.60L644.60 964.60zM640.00 1040.00L320.00 1040.00L318.09 1044.60L644.60 1044.60zM320.00 1040.00L240.00 960.00L238.09 964.60L318.09 1044.60zM240.00 960.00L160.00 960.00L155.40 964.60L238.09 964.60zM160.00 920.00L120.00 920.00L115.40 924.60L155.40 924.60zM120.00 840.00L80.00 840.00L84.60 844.60L115.40 844.60zM80.00 840.00L80.00 880.00L84.60 884.60L84.60 844.60zM80.00 880.00L40.00 880.00L35.40 884.60L84.60 884.60zM80.00 520.00L80.00 560.00L84.60 555.40L84.60 515.40zM1120.00 160.00L1120.00 200.00L1124.60 204.60L1124.60 155.40zM1120.00 200.00L840.00 200.00L835.40 204.60L1124.60 204.60zM800.00 720.00L640.00 720.00L635.40 724.60L788.89 724.60zM720.00 680.00L680.00 640.00L678.09 644.60L708.89 675.40zM680.00 640.00L600.00 640.00L604.60 644.60L678.09 644.60zM600.00 640.00L600.00 720.00L604.60 718.09L604.60 644.60zM960.00 480.00L960.00 520.00L964.60 515.40L964.60 484.60zM1000.00 480.00L960.00 480.00L964.60 484.60L995.40 484.60zM1360.00 640.00L1280.00 640.00L1281.91 644.60L1355.40 644.60zM1280.00 640.00L1240.00 680.00L1251.11 675.40L1281.91 644.60zM1320.00 680.00L1320.00 720.00L1324.60 724.60L1324.60 675.40zM1320.00 720.00L1160.00 720.00L1171.11 724.60L1324.60 724.60z" fill="#3a393f"/>
<path d="M0.00 920.00L80.00 920.00L84.60 915.40L4.60 915.40zM80.00 960.00L120.00 960.00L124.60 955.40L84.60 955.40zM120.00 1000.00L240.00 1000.00L241.91 995.40L124.60 995.40zM240.00 1000.00L320.00 1080.00L321.91 1075.40L241.91 995.40zM320.00 1080.00L680.00 1080.00L675.40 1075.40L321.91 1075.40zM680.00 1080.00L680.00 1000.00L675.40 995.40L675.40 1075.40zM680.00 1000.00L760.00 1000.00L761.91 995.40L675.40 995.40zM760.00 1000.00L800.00 1040.00L804.60 1038.09L761.91 995.40zM800.00 1120.00L1160.00 1120.00L1155.40 1115.40L804.60 1115.40zM1160.00 1120.00L1160.00 1040.00L1155.40 1038.09L1155.40 1115.40zM1160.00 1040.00L1200.00 1000.00L1198.09 995.40L1155.40 1038.09zM1200.00 1000.00L1280.00 1000.00L1284.60 995.40L1198.09 995.40zM1280.00 1080.00L1640.00 1080.00L1638.09 1075.40L1284.60 1075.40zM1640.00 1080.00L1720.00 1000.00L1718.09 995.40L1638.09 1075.40zM1720.00 1000.00L1840.00 1000.00L1835.40 995.40L1718.09 995.40zM1840.00 1000.00L1840.00 960.00L1835.40 955.40L1835.40 995.40zM1840.00 960.00L1880.00 960.00L1875.40 955.40L1835.40 955.40zM1880.00 960.00L1880.00 920.00L1875.40 915.40L1875.40 955.40zM1880.00 920.00L1960.00 920.00L1955.40 915.40L1875.40 915.40zM1960.00 920.00L1960.00 480.00L1955.40 484.60L1955.40 915.40zM1800.00 400.00L1800.00 240.00L1795.40 244.60L1795.40 401.91zM1160.00 320.00L1160.00 280.00L1155.40 284.60L1155.40 324.60zM1080.00 240.00L1160.00 240.00L1155.40 235.40L1068.89 235.40zM1160.00 240.00L1160.00 120.00L1155.40 124.60L1155.40 235.40zM800.00 240.00L880.00 240.00L891.11 235.40L804.60 235.40zM520.00 280.00L600.00 360.00L601.91 355.40L521.91 275.40zM600.00 360.00L800.00 360.00L798.09 355.40L601.91 355.40zM800.00 360.00L920.00 240.00L918.09 235.40L798.09 355.40zM920.00 240.00L1040.00 240.00L1041.91 235.40L918.09 235.40zM1040.00 240.00L1160.00 360.00L1161.91 355.40L1041.91 235.40zM1160.00 360.00L1360.00 360.00L1358.09 355.40L1161.91 355.40zM1360.00 360.00L1440.00 280.00L1438.09 275.40L1358.09 355.40zM1440.00 280.00L1760.00 280.00L1764.60 275.40L1438.09 275.40zM1760.00 400.00L1840.00 480.00L1844.60 478.09L1764.60 398.09zM1840.00 560.00L1880.00 560.00L1875.40 555.40L1844.60 555.40zM1880.00 560.00L1880.00 520.00L1875.40 515.40L1875.40 555.40zM1880.00 520.00L1920.00 520.00L1924.60 515.40L1875.40 515.40zM1880.00 880.00L1880.00 840.00L1875.40 844.60L1875.40 884.60zM1320.00 1040.00L1320.00 960.00L1315.40 964.60L1315.40 1044.60zM840.00 1080.00L840.00 1040.00L835.40 1041.91L835.40 1084.60zM160.00 960.00L160.00 920.00L155.40 924.60L155.40 964.60zM120.00 920.00L120.00 840.00L115.40 844.60L115.40 924.60zM40.00 880.00L40.00 520.00L35.40 515.40L35.40 884.60zM40.00 520.00L80.00 520.00L84.60 515.40L35.40 515.40zM80.00 560.00L120.00 560.00L115.40 555.40L84.60 555.40zM120.00 560.00L120.00 480.00L115.40 478.09L115.40 555.40zM120.00 480.00L200.00 400.00L195.40 398.09L115.40 478.09zM200.00 400.00L200.00 280.00L195.40 275.40L195.40 398.09zM200.00 280.00L520.00 280.00L521.91 275.40L195.40 275.40zM840.00 200.00L840.00 160.00L835.40 155.40L835.40 204.60zM840.00 160.00L1120.00 160.00L1124.60 155.40L835.40 155.40zM760.00 760.00L800.00 720.00L788.89 724.60L758.09 755.40zM640.00 720.00L640.00 680.00L635.40 675.40L635.40 724.60zM640.00 680.00L720.00 680.00L708.89 675.40L635.40 675.40zM600.00 720.00L640.00 760.00L641.91 755.40L604.60 718.09zM640.00 760.00L760.00 760.00L758.09 755.40L641.91 755.40zM960.00 520.00L1000.00 520.00L995.40 515.40L964.60 515.40zM1000.00 520.00L1000.00 480.00L995.40 484.60L995.40 515.40zM1160.00 720.00L1200.00 760.00L1201.91 755.40L1171.11 724.60zM1200.00 760.00L1320.00 760.00L1318.09 755.40L1201.91 755.40zM1320.00 760.00L1360.00 720.00L1355.40 718.09L1318.09 755.40zM1360.00 720.00L1360.00 640.00L1355.40 644.60L1355.40 718.09zM1240.00 680.00L1320.00 680.00L1324.60 675.40L1251.11 675.40z" fill="#202025"/>
<path d="M600.00 320.00L520.00 240.00L519.42 241.40L599.42 321.40zM520.00 240.00L160.00 240.00L161.40 241.40L519.42 241.40zM160.00 240.00L160.00 400.00L161.40 400.58L161.40 241.40zM160.00 400.00L80.00 480.00L80.58 481.40L161.40 400.58zM80.00 480.00L0.00 480.00L1.40 481.40L80.58 481.40zM0.00 480.00L0.00 920.00L1.40 918.60L1.40 481.40zM80.00 920.00L80.00 960.00L81.40 958.60L81.40 918.60zM120.00 960.00L120.00 1000.00L121.40 998.60L121.40 958.60zM800.00 1040.00L800.00 1120.00L801.40 1118.60L801.40 1039.42zM1280.00 1000.00L1280.00 1080.00L1281.40 1078.60L1281.40 998.60zM1960.00 480.00L1880.00 480.00L1879.42 481.40L1958.60 481.40zM1880.00 480.00L1800.00 400.00L1798.60 400.58L1879.42 481.40zM1800.00 240.00L1440.00 240.00L1440.58 241.40L1798.60 241.40zM1440.00 240.00L1360.00 320.00L1360.58 321.40L1440.58 241.40zM1360.00 320.00L1160.00 320.00L1158.60 321.40L1360.58 321.40zM1160.00 280.00L1120.00 280.00L1119.42 281.40L1158.60 281.40zM1120.00 280.00L1080.00 240.00L1076.62 238.60L1119.42 281.40zM1160.00 120.00L800.00 120.00L801.40 121.40L1158.60 121.40zM800.00 120.00L800.00 240.00L801.40 238.60L801.40 121.40zM880.00 240.00L840.00 280.00L840.58 281.40L883.38 238.60zM840.00 280.00L800.00 280.00L801.40 281.40L840.58 281.40zM800.00 280.00L800.00 320.00L801.40 321.40L801.40 281.40zM800.00 320.00L600.00 320.00L599.42 321.40L801.40 321.40zM1760.00 280.00L1760.00 400.00L1761.40 399.42L1761.40 278.60zM1840.00 480.00L1840.00 560.00L1841.40 558.60L1841.40 479.42zM1920.00 520.00L1920.00 880.00L1921.40 881.40L1921.40 518.60zM1920.00 880.00L1880.00 880.00L1878.60 881.40L1921.40 881.40zM1880.00 840.00L1840.00 840.00L1841.40 841.40L1878.60 841.40zM1840.00 840.00L1840.00 920.00L1841.40 921.40L1841.40 841.40zM1840.00 920.00L1800.00 920.00L1801.40 921.40L1841.40 921.40zM1800.00 920.00L1800.00 960.00L1801.40 961.40L1801.40 921.40zM1800.00 960.00L1720.00 960.00L1720.58 961.40L1801.40 961.40zM1720.00 960.00L1640.00 1040.00L1640.58 1041.40L1720.58 961.40zM1640.00 1040.00L1320.00 1040.00L1318.60 1041.40L1640.58 1041.40zM1320.00 960.00L1200.00 960.00L1200.58 961.40L1318.60 961.40zM1200.00 960.00L1120.00 1040.00L1121.40 1040.58L1200.58 961.40zM1120.00 1040.00L1120.00 1080.00L1121.40 1081.40L1121.40 1040.58zM1120.00 1080.00L840.00 1080.00L838.60 1081.40L1121.40 1081.40zM840.00 1040.00L760.00 960.00L759.42 961.40L838.60 1040.58zM760.00 960.00L640.00 960.00L641.40 961.40L759.42 961.40zM640.00 960.00L640.00 1040.00L641.40 1041.40L641.40 961.40zM640.00 1040.00L320.00 1040.00L319.42 1041.40L641.40 1041.40zM320.00 1040.00L240.00 960.00L239.42 961.40L319.42 1041.40zM240.00 960.00L160.00 960.00L158.60 961.40L239.42 961.40zM160.00 920.00L120.00 920.00L118.60 921.40L158.60 921.40zM120.00 840.00L80.00 840.00L81.40 841.40L118.60 841.40zM80.00 840.00L80.00 880.00L81.40 881.40L81.40 841.40zM80.00 880.00L40.00 880.00L38.60 881.40L81.40 881.40zM80.00 520.00L80.00 560.00L81.40 558.60L81.40 518.60zM1120.00 160.00L1120.00 200.00L1121.40 201.40L1121.40 158.60zM1120.00 200.00L840.00 200.00L838.60 201.40L1121.40 201.40zM800.00 720.00L640.00 720.00L638.60 721.40L796.62 721.40zM720.00 680.00L680.00 640.00L679.42 641.40L716.62 678.60zM680.00 640.00L600.00 640.00L601.40 641.40L679.42 641.40zM600.00 640.00L600.00 720.00L601.40 719.42L601.40 641.40zM960.00 480.00L960.00 520.00L961.40 518.60L961.40 481.40zM1000.00 480.00L960.00 480.00L961.40 481.40L998.60 481.40zM1360.00 640.00L1280.00 640.00L1280.58 641.40L1358.60 641.40zM1280.00 640.00L1240.00 680.00L1243.38 678.60L1280.58 641.40zM1320.00 680.00L1320.00 720.00L1321.40 721.40L1321.40 678.60zM1320.00 720.00L1160.00 720.00L1163.38 721.40L1321.40 721.40z" fill="#353439"/>
<path d="M0.00 920.00L80.00 920.00L81.40 918.60L1.40 918.60zM80.00 960.00L120.00 960.00L121.40 958.60L81.40 958.60zM120.00 1000.00L240.00 1000.00L240.58 998.60L121.40 998.60zM240.00 1000.00L320.00 1080.00L320.58 1078.60L240.58 998.60zM320.00 1080.00L680.00 1080.00L678.60 1078.60L320.58 1078.60zM680.00 1080.00L680.00 1000.00L678.60 998.60L678.60 1078.60zM680.00 1000.00L760.00 1000.00L760.58 998.60L678.60 998.60zM760.00 1000.00L800.00 1040.00L801.40 1039.42L760.58 998.60zM800.00 1120.00L1160.00 1120.00L1158.60 1118.60L801.40 1118.60zM1160.00 1120.00L1160.00 1040.00L1158.60 1039.42L1158.60 1118.60zM1160.00 1040.00L1200.00 1000.00L1199.42 998.60L1158.60 1039.42zM1200.00 1000.00L1280.00 1000.00L1281.40 998.60L1199.42 998.60zM1280.00 1080.00L1640.00 1080.00L1639.42 1078.60L1281.40 1078.60zM1640.00 1080.00L1720.00 1000.00L1719.42 998.60L1639.42 1078.60zM1720.00 1000.00L1840.00 1000.00L1838.60 998.60L1719.42 998.60zM1840.00 1000.00L1840.00 960.00L1838.60 958.60L1838.60 998.60zM1840.00 960.00L1880.00 960.00L1878.60 958.60L1838.60 958.60zM1880.00 960.00L1880.00 920.00L1878.60 918.60L1878.60 958.60zM1880.00 920.00L1960.00 920.00L1958.60 918.60L1878.60 918.60zM1960.00 920.00L1960.00 480.00L1958.60 481.40L1958.60 918.60zM1800.00 400.00L1800.00 240.00L1798.60 241.40L1798.60 400.58zM1160.00 320.00L1160.00 280.00L1158.60 281.40L1158.60 321.40zM1080.00 240.00L1160.00 240.00L1158.60 238.60L1076.62 238.60zM1160.00 240.00L1160.00 120.00L1158.60 121.40L1158.60 238.60zM800.00 240.00L880.00 240.00L883.38 238.60L801.40 238.60zM520.00 280.00L600.00 360.00L600.58 358.60L520.58 278.60zM600.00 360.00L800.00 360.00L799.42 358.60L600.58 358.60zM800.00 360.00L920.00 240.00L919.42 238.60L799.42 358.60zM920.00 240.00L1040.00 240.00L1040.58 238.60L919.42 238.60zM1040.00 240.00L1160.00 360.00L1160.58 358.60L1040.58 238.60zM1160.00 360.00L1360.00 360.00L1359.42 358.60L1160.58 358.60zM1360.00 360.00L1440.00 280.00L1439.42 278.60L1359.42 358.60zM1440.00 280.00L1760.00 280.00L1761.40 278.60L1439.42 278.60zM1760.00 400.00L1840.00 480.00L1841.40 479.42L1761.40 399.42zM1840.00 560.00L1880.00 560.00L1878.60 558.60L1841.40 558.60zM1880.00 560.00L1880.00 520.00L1878.60 518.60L1878.60 558.60zM1880.00 520.00L1920.00 520.00L1921.40 518.60L1878.60 518.60zM1880.00 880.00L1880.00 840.00L1878.60 841.40L1878.60 881.40zM1320.00 1040.00L1320.00 960.00L1318.60 961.40L1318.60 1041.40zM840.00 1080.00L840.00 1040.00L838.60 1040.58L838.60 1081.40zM160.00 960.00L160.00 920.00L158.60 921.40L158.60 961.40zM120.00 920.00L120.00 840.00L118.60 841.40L118.60 921.40zM40.00 880.00L40.00 520.00L38.60 518.60L38.60 881.40zM40.00 520.00L80.00 520.00L81.40 518.60L38.60 518.60zM80.00 560.00L120.00 560.00L118.60 558.60L81.40 558.60zM120.00 560.00L120.00 480.00L118.60 479.42L118.60 558.60zM120.00 480.00L200.00 400.00L198.60 399.42L118.60 479.42zM200.00 400.00L200.00 280.00L198.60 278.60L198.60 399.42zM200.00 280.00L520.00 280.00L520.58 278.60L198.60 278.60zM840.00 200.00L840.00 160.00L838.60 158.60L838.60 201.40zM840.00 160.00L1120.00 160.00L1121.40 158.60L838.60 158.60zM760.00 760.00L800.00 720.00L796.62 721.40L759.42 758.60zM640.00 720.00L640.00 680.00L638.60 678.60L638.60 721.40zM640.00 680.00L720.00 680.00L716.62 678.60L638.60 678.60zM600.00 720.00L640.00 760.00L640.58 758.60L601.40 719.42zM640.00 760.00L760.00 760.00L759.42 758.60L640.58 758.60zM960.00 520.00L1000.00 520.00L998.60 518.60L961.40 518.60zM1000.00 520.00L1000.00 480.00L998.60 481.40L998.60 518.60zM1160.00 720.00L1200.00 760.00L1200.58 758.60L1163.38 721.40zM1200.00 760.00L1320.00 760.00L1319.42 758.60L1200.58 758.60zM1320.00 760.00L1360.00 720.00L1358.60 719.42L1319.42 758.60zM1360.00 720.00L1360.00 640.00L1358.60 641.40L1358.60 719.42zM1240.00 680.00L1320.00 680.00L1321.40 678.60L1243.38 678.60z" fill="#1f1f24"/>
<rect x="1120" y="180" width="7" height="27" fill="#4d4c52"/>
<rect x="1135.5" y="195" width="3.6" height="24" rx="1.2" fill="#232328"/>
<rect x="1133.2" y="194" width="1" height="25" fill="#57565c" opacity=".6"/>
<rect x="1140.2" y="194" width="1" height="25" fill="#57565c" opacity=".6"/>
<rect x="800" y="300" width="7" height="20" fill="#4d4c52"/>
<rect x="815.5" y="315" width="3.6" height="4" rx="1.2" fill="#232328"/>
<rect x="1320" y="700" width="7" height="20" fill="#4d4c52"/>
<rect x="1335.5" y="715" width="3.6" height="4" rx="1.2" fill="#232328"/>
<rect x="80" y="860" width="7" height="27" fill="#4d4c52"/>
<rect x="95.5" y="875" width="3.6" height="24" rx="1.2" fill="#232328"/>
<rect x="93.2" y="874" width="1" height="25" fill="#57565c" opacity=".6"/>
<rect x="100.2" y="874" width="1" height="25" fill="#57565c" opacity=".6"/>
<rect x="1920" y="860" width="7" height="27" fill="#4d4c52"/>
<rect x="1935.5" y="875" width="3.6" height="24" rx="1.2" fill="#232328"/>
<rect x="1933.2" y="874" width="1" height="25" fill="#57565c" opacity=".6"/>
<rect x="1940.2" y="874" width="1" height="25" fill="#57565c" opacity=".6"/>
<rect x="1840" y="900" width="7" height="27" fill="#4d4c52"/>
<rect x="1855.5" y="915" width="3.6" height="24" rx="1.2" fill="#232328"/>
<rect x="1853.2" y="914" width="1" height="25" fill="#57565c" opacity=".6"/>
<rect x="1860.2" y="914" width="1" height="25" fill="#57565c" opacity=".6"/>
<rect x="1800" y="940" width="7" height="27" fill="#4d4c52"/>
<rect x="1815.5" y="955" width="3.6" height="24" rx="1.2" fill="#232328"/>
<rect x="1813.2" y="954" width="1" height="25" fill="#57565c" opacity=".6"/>
<rect x="1820.2" y="954" width="1" height="25" fill="#57565c" opacity=".6"/>
<rect x="640" y="1020" width="7" height="27" fill="#4d4c52"/>
<rect x="655.5" y="1035" width="3.6" height="24" rx="1.2" fill="#232328"/>
<rect x="653.2" y="1034" width="1" height="25" fill="#57565c" opacity=".6"/>
<rect x="660.2" y="1034" width="1" height="25" fill="#57565c" opacity=".6"/>
<rect x="1120" y="1060" width="7" height="27" fill="#4d4c52"/>
<rect x="1135.5" y="1075" width="3.6" height="24" rx="1.2" fill="#232328"/>
<rect x="1133.2" y="1074" width="1" height="25" fill="#57565c" opacity=".6"/>
<rect x="1140.2" y="1074" width="1" height="25" fill="#57565c" opacity=".6"/>
<use href="#otile" x="840" y="160"/>
<use href="#otile" x="880" y="160"/>
<use href="#otile" x="920" y="160"/>
<use href="#otile" x="1000" y="160"/>
<use href="#otile" x="1040" y="160"/>
<use href="#otile" x="1080" y="160"/>
<use href="#otile" x="920" y="240"/>
<use href="#otile" x="960" y="240"/>
<use href="#otile" x="1000" y="240"/>
<use href="#otile" x="960" y="320"/>
<use href="#otile" x="320" y="320"/>
<use href="#otile" x="320" y="360"/>
<use href="#otile" x="1600" y="320"/>
<use href="#otile" x="1600" y="360"/>
<use href="#otile" x="40" y="520"/>
<use href="#otile" x="1880" y="520"/>
<use href="#otile" x="960" y="520"/>
<use href="#otile" x="960" y="600"/>
<use href="#otile" x="40" y="680"/>
<use href="#otile" x="80" y="680"/>
<use href="#otile" x="640" y="680"/>
<use href="#otile" x="680" y="680"/>
<use href="#otile" x="960" y="680"/>
<use href="#otile" x="1240" y="680"/>
<use href="#otile" x="1280" y="680"/>
<use href="#otile" x="1840" y="680"/>
<use href="#otile" x="1880" y="680"/>
<use href="#otile" x="40" y="840"/>
<use href="#otile" x="680" y="840"/>
<use href="#otile" x="960" y="840"/>
<use href="#otile" x="1240" y="840"/>
<use href="#otile" x="1880" y="840"/>
<use href="#otile" x="600" y="1000"/>
<use href="#otile" x="1320" y="1000"/>
<use href="#otile" x="960" y="1040"/>
<use href="#off" x="860" y="180"/>
<use href="#btn" x="900" y="180"/>
<use href="#boost" x="940" y="180"/>
<use href="#boost" x="1020" y="180"/>
<use href="#btn" x="1060" y="180"/>
<use href="#off" x="1100" y="180"/>
<use href="#boost" x="940" y="260"/>
<use href="#boost" x="980" y="260"/>
<use href="#boost" x="1020" y="260"/>
<use href="#pup" x="980" y="340"/>
<use href="#cy" x="340" y="340"/>
<use href="#cb" x="340" y="380"/>
<use href="#cy" x="1620" y="340"/>
<use href="#cr" x="1620" y="380"/>
<use href="#spike" x="60" y="540"/>
<use href="#spike" x="1900" y="540"/>
<use href="#off" x="980" y="540"/>
<use href="#pup" x="980" y="620"/>
<use href="#spike" x="60" y="700"/>
<use href="#boost" x="100" y="700"/>
<use href="#rflag" x="340" y="700"/>
<use href="#spike" x="660" y="700"/>
<use href="#spike" x="700" y="700"/>
<use href="#btn" x="980" y="700"/>
<use href="#spike" x="1260" y="700"/>
<use href="#spike" x="1300" y="700"/>
<use href="#bflag" x="1620" y="700"/>
<use href="#boost" x="1860" y="700"/>
<use href="#spike" x="1900" y="700"/>
<use href="#spike" x="60" y="860"/>
<use href="#cr" x="700" y="860"/>
<use href="#spike" x="980" y="860"/>
<use href="#cb" x="1260" y="860"/>
<use href="#spike" x="1900" y="860"/>
<use href="#bomb" x="620" y="1020"/>
<use href="#bomb" x="1340" y="1020"/>
<use href="#cy" x="980" y="1060"/>
</svg>
</body></html>
